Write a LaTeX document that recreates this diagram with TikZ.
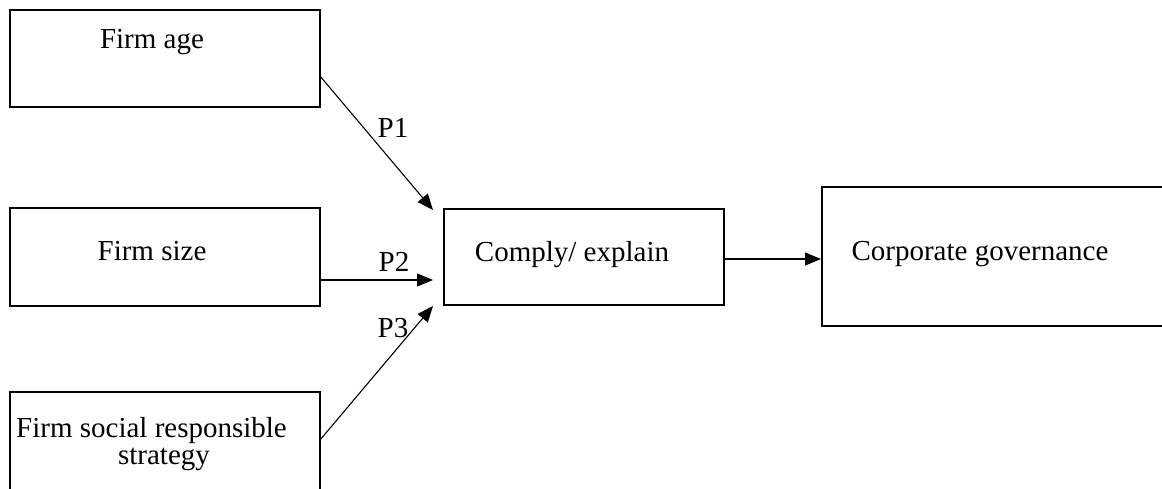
\documentclass[tikz,border=0pt]{standalone}
\usepackage{fontspec}
\setmainfont{Liberation Serif}
\usetikzlibrary{arrows.meta}
\begin{document}
\begin{tikzpicture}[x=1pt,y=-1pt,
  box/.style={draw=black,line width=2.4pt},
  lbl/.style={anchor=base,inner sep=0pt,font=\fontsize{29}{34}\selectfont},
  link/.style={draw=black,line width=1.1pt,-{Triangle[length=16pt,width=13pt]}}]
\clip (0,0) rectangle (1162,488);
\fill[white] (0,0) rectangle (1162,488);

% boxes
\draw[box] (10,10) rectangle (320,107);
\coordinate (age) at (320,76);
\draw[box] (10,208) rectangle (320,306);
\coordinate (size) at (320,280);
\draw[box] (10,392) rectangle (320,500);
\coordinate (csr) at (320,440);
\draw[box] (444,209) rectangle (724,305);
\coordinate (cin1) at (433,210);
\coordinate (cin2) at (433,280);
\coordinate (cin3) at (433,306);
\coordinate (cout) at (724,259);
\draw[box] (822,187) rectangle (1175,326);
\coordinate (cg) at (821,259);

% texts
\node[lbl] (tage) at (152,48) {Firm age};
\node[lbl] (tsize) at (152,260) {Firm size};
\node[lbl,anchor=base west] (tcsr1) at (16,437) {Firm social responsible};
\node[lbl] (tcsr2) at (164,464) {strategy};
\node[lbl] (tce) at (572,261) {Comply/ explain};
\node[lbl] (tcg) at (980,260) {Corporate governance};

% propositions
\draw[link] (age) -- (cin1);
\draw[link] (size) -- (cin2);
\draw[link] (csr) -- (cin3);
\draw[link] (cout) -- (cg);
\node[lbl] (p1) at (393,137) {P1};
\node[lbl] (p2) at (394,271) {P2};
\node[lbl] (p3) at (393,337) {P3};
\end{tikzpicture}
\end{document}
